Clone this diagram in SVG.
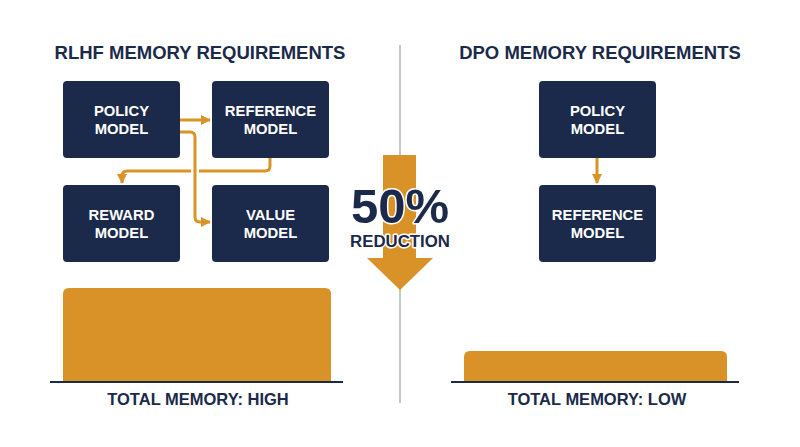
<svg xmlns="http://www.w3.org/2000/svg" width="800" height="447" viewBox="0 0 800 447">
<defs>
<style>
.title{font-family:"Liberation Sans",Arial,sans-serif;font-weight:700;font-size:18.5px;fill:#1b2a4a;text-anchor:middle}
.box{fill:#1b2a4a}
.bt{font-family:"Liberation Sans",Arial,sans-serif;font-weight:700;font-size:14.8px;fill:#ffffff;text-anchor:middle}
.conn{fill:none;stroke:#da9328;stroke-width:3;stroke-linejoin:round}
.bar{fill:#d99228}
.base{stroke:#1b2a4a;stroke-width:2}
.lbl{font-family:"Liberation Sans",Arial,sans-serif;font-weight:700;font-size:16.5px;fill:#1b2a4a;text-anchor:middle}
.big{font-family:"Liberation Sans",Arial,sans-serif;font-weight:700;fill:#1b2a4a;text-anchor:middle;stroke:#ffffff;stroke-width:3;paint-order:stroke;stroke-linejoin:round}
</style>
<marker id="ah" viewBox="0 0 10 10" refX="9" refY="5" markerWidth="3.4" markerHeight="3.4" orient="auto" markerUnits="strokeWidth">
<path d="M0,0 L10,5 L0,10 Z" fill="#da9328"/>
</marker>
</defs>
<rect width="800" height="447" fill="#ffffff"/>
<line x1="400" y1="45" x2="400" y2="403" stroke="#c9c9c9" stroke-width="2"/>
<text class="title" x="200" y="59">RLHF MEMORY REQUIREMENTS</text>
<text class="title" x="600" y="59">DPO MEMORY REQUIREMENTS</text>
<g id="connectors">
<path class="conn" d="M180,120 H210" marker-end="url(#ah)"/>
<path class="conn" d="M270,158 V166 Q270,171 265,171 H127 Q122,171 122,176 V183" marker-end="url(#ah)"/>
<path d="M180,132 H190 Q195,132 195,137 V217 Q195,222 200,222 H210" fill="none" stroke="#ffffff" stroke-width="8"/>
<path class="conn" d="M180,132 H190 Q195,132 195,137 V217 Q195,222 200,222 H210" marker-end="url(#ah)"/>
<path class="conn" d="M597,158 V183" marker-end="url(#ah)"/>
</g>
<g id="rlhf-policy"><rect class="box" x="63" y="81" width="117" height="77" rx="4"/><text class="bt" x="121.5" y="116">POLICY</text><text class="bt" x="121.5" y="134">MODEL</text></g>
<g id="rlhf-reference"><rect class="box" x="212" y="81" width="117" height="77" rx="4"/><text class="bt" x="270.5" y="116">REFERENCE</text><text class="bt" x="270.5" y="134">MODEL</text></g>
<g id="rlhf-reward"><rect class="box" x="63" y="185" width="117" height="77" rx="4"/><text class="bt" x="121.5" y="220">REWARD</text><text class="bt" x="121.5" y="238">MODEL</text></g>
<g id="rlhf-value"><rect class="box" x="212" y="185" width="117" height="77" rx="4"/><text class="bt" x="270.5" y="220">VALUE</text><text class="bt" x="270.5" y="238">MODEL</text></g>
<g id="dpo-policy"><rect class="box" x="539" y="81" width="117" height="77" rx="4"/><text class="bt" x="597.5" y="116">POLICY</text><text class="bt" x="597.5" y="134">MODEL</text></g>
<g id="dpo-reference"><rect class="box" x="539" y="185" width="117" height="77" rx="4"/><text class="bt" x="597.5" y="220">REFERENCE</text><text class="bt" x="597.5" y="238">MODEL</text></g>
<g id="reduction">
<path d="M383,155 H416 V258 H433 L400,290 L367,258 H383 Z" fill="#d99228"/>
<text class="big" x="400" y="223" font-size="49">50%</text>
<text class="big" x="400" y="247" font-size="16.8">REDUCTION</text>
</g>
<g id="rlhf-memory">
<path class="bar" d="M63,382 V294 Q63,288 69,288 H325 Q331,288 331,294 V382 Z"/>
<line class="base" x1="50" y1="382" x2="343" y2="382"/>
<text class="lbl" x="198" y="405">TOTAL MEMORY: HIGH</text>
</g>
<g id="dpo-memory">
<path class="bar" d="M464,382 V357 Q464,351 470,351 H721 Q727,351 727,357 V382 Z"/>
<line class="base" x1="451" y1="382" x2="739" y2="382"/>
<text class="lbl" x="597" y="405">TOTAL MEMORY: LOW</text>
</g>
</svg>
